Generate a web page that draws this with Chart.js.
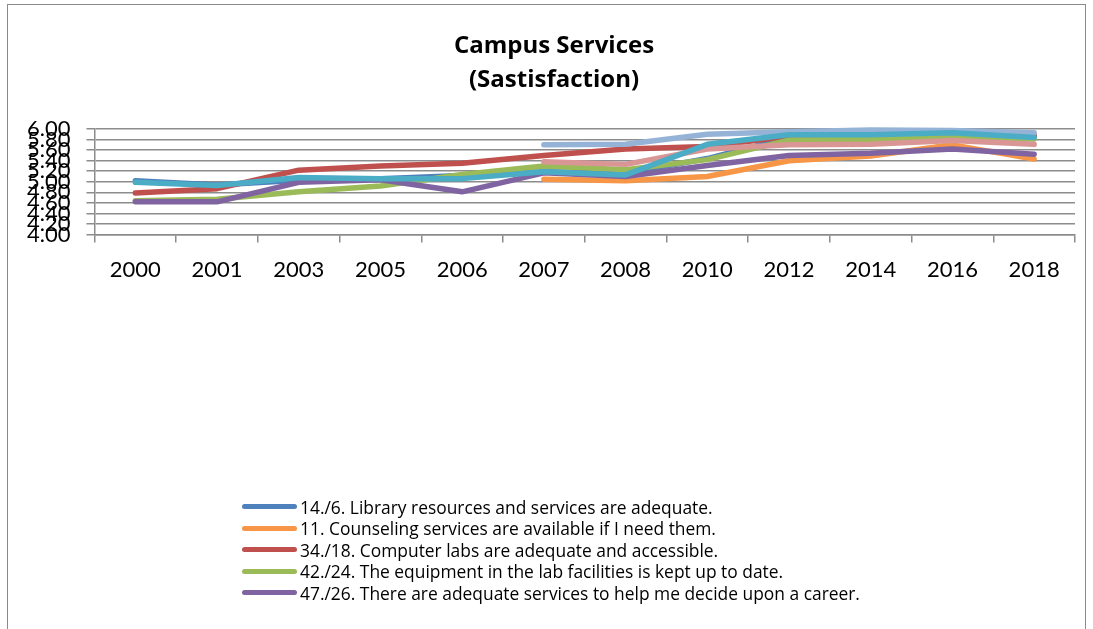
<!DOCTYPE html>
<html>
<head>
<meta charset="utf-8">
<script src="https://cdn.jsdelivr.net/npm/chart.js@4/dist/chart.umd.min.js"></script>
<style>
  html, body { margin: 0; padding: 0; background: #fff; }
  #wrap { position: relative; width: 1093px; height: 629px; overflow: hidden; }
  #frame { position: absolute; left: 7px; top: 4px; width: 1079px; height: 640px; border: 1px solid #8a8a8a; box-sizing: border-box; pointer-events: none; }
  #c { position: absolute; left: 0; top: 0; }
  #title { position: absolute; left: 354px; width: 400px; top: 27px; text-align: center; font-family: "Open Sans", Lato, sans-serif; font-weight: bold; font-size: 24px; line-height: 34px; color: #000; }
  #legend { position: absolute; left: 242px; top: 496px; font-family: "Open Sans", Lato, sans-serif; font-size: 17.4px; color: #000; }
  #legend .item { display: flex; align-items: center; height: 21.5px; white-space: nowrap; }
  #legend .swatch { width: 55px; height: 5px; border-radius: 3px; margin-right: 3px; }
</style>
</head>
<body>
<div id="wrap">
  <canvas id="c" width="1093" height="629"></canvas>
  <div id="frame"></div>
  <div id="title"></div>
  <div id="legend"></div>
</div>
<script>
const categories = ['2000','2001','2003','2005','2006','2007','2008','2010','2012','2014','2016','2018'];
const yTickValues = [4.00,4.20,4.40,4.60,4.80,5.00,5.20,5.40,5.60,5.80,6.00];
const titleLines = ['Campus Services', '(Sastisfaction)'];

const seriesNames = [
  '14./6. Library resources and services are adequate.',
  '11. Counseling services are available if I need them.',
  '34./18. Computer labs are adequate and accessible.',
  '42./24. The equipment in the lab facilities is kept up to date.',
  '47./26. There are adequate services to help me decide upon a career.',
  'Series 6',
  'Series 7',
  'Series 8'
];
const library    = [5.02, 4.94, 5.03, 5.06, 5.12, 5.19, 5.16, 5.44, 5.84, 5.90, 5.93, 5.86];
const counseling = [null, null, null, null, null, 5.05, 5.02, 5.10, 5.40, 5.49, 5.70, 5.43];
const labs       = [4.79, 4.87, 5.22, 5.30, 5.35, 5.50, 5.62, 5.67, 5.86, 5.92, 5.94, 5.88];
const equipment  = [4.64, 4.67, 4.81, 4.92, 5.14, 5.30, 5.23, 5.42, 5.79, 5.80, 5.85, 5.81];
const career     = [4.62, 4.62, 4.99, 5.04, 4.81, 5.17, 5.10, 5.31, 5.50, 5.54, 5.62, 5.52];
const seriesLB   = [null, null, null, null, null, 5.70, 5.71, 5.90, 5.95, 5.98, 5.97, 5.93];
const seriesPink = [null, null, null, null, null, 5.38, 5.33, 5.62, 5.70, 5.71, 5.78, 5.71];
const seriesTeal = [4.99, 4.93, 5.08, 5.06, 5.06, 5.19, 5.13, 5.71, 5.89, 5.89, 5.93, 5.84];

const colors = ['#4F81BD','#F79646','#C0504D','#9BBB59','#8064A2','#95B3D7','#D99694','#4BACC6'];
const values = [library, counseling, labs, equipment, career, seriesLB, seriesPink, seriesTeal];
const legendCount = 5;

const datasets = values.map((v, i) => ({
  label: seriesNames[i],
  data: v,
  order: values.length - i,
  borderColor: colors[i],
  backgroundColor: colors[i],
  borderWidth: 5.5,
  pointRadius: 0,
  pointHoverRadius: 0,
  tension: 0,
  borderCapStyle: 'round',
  borderJoinStyle: 'round',
  spanGaps: false,
  clip: false,
  fill: false
}));

const chart = new Chart(document.getElementById('c'), {
  type: 'line',
  data: { labels: categories, datasets },
  options: {
    responsive: false,
    animation: false,
    events: [],
    layout: { padding: { left: 11, right: 18, top: 129, bottom: 332 } },
    plugins: {
      legend: { display: false },
      tooltip: { enabled: false },
      title: { display: false }
    },
    scales: {
      x: {
        type: 'category',
        offset: true,
        grid: { offset: true, drawOnChartArea: false, drawTicks: true, tickLength: 8, color: '#8c8c8c', lineWidth: 1.5 },
        border: { display: true, color: '#8c8c8c', width: 1.5 },
        ticks: { color: '#000', font: { family: 'Lato', size: 22 }, padding: 14, maxRotation: 0, autoSkip: false }
      },
      y: {
        min: 4.0,
        max: 6.0,
        afterBuildTicks: (axis) => { axis.ticks = yTickValues.map(v => ({ value: v })); },
        grid: { color: '#8c8c8c', lineWidth: 1.5, tickLength: 8, drawTicks: true },
        border: { display: true, color: '#8c8c8c', width: 1.5 },
        ticks: {
          color: '#000',
          font: { family: 'Lato', size: 22 },
          padding: 16,
          autoSkip: false,
          callback: (v) => Number(v).toFixed(2)
        }
      }
    }
  }
});

const titleEl = document.getElementById('title');
titleLines.forEach(t => { const d = document.createElement('div'); d.textContent = t; titleEl.appendChild(d); });

const leg = document.getElementById('legend');
for (let i = 0; i < legendCount; i++) {
  const row = document.createElement('div');
  row.className = 'item';
  const sw = document.createElement('span');
  sw.className = 'swatch';
  sw.style.background = colors[i];
  const tx = document.createElement('span');
  tx.textContent = seriesNames[i];
  row.appendChild(sw);
  row.appendChild(tx);
  leg.appendChild(row);
}
</script>
</body>
</html>
